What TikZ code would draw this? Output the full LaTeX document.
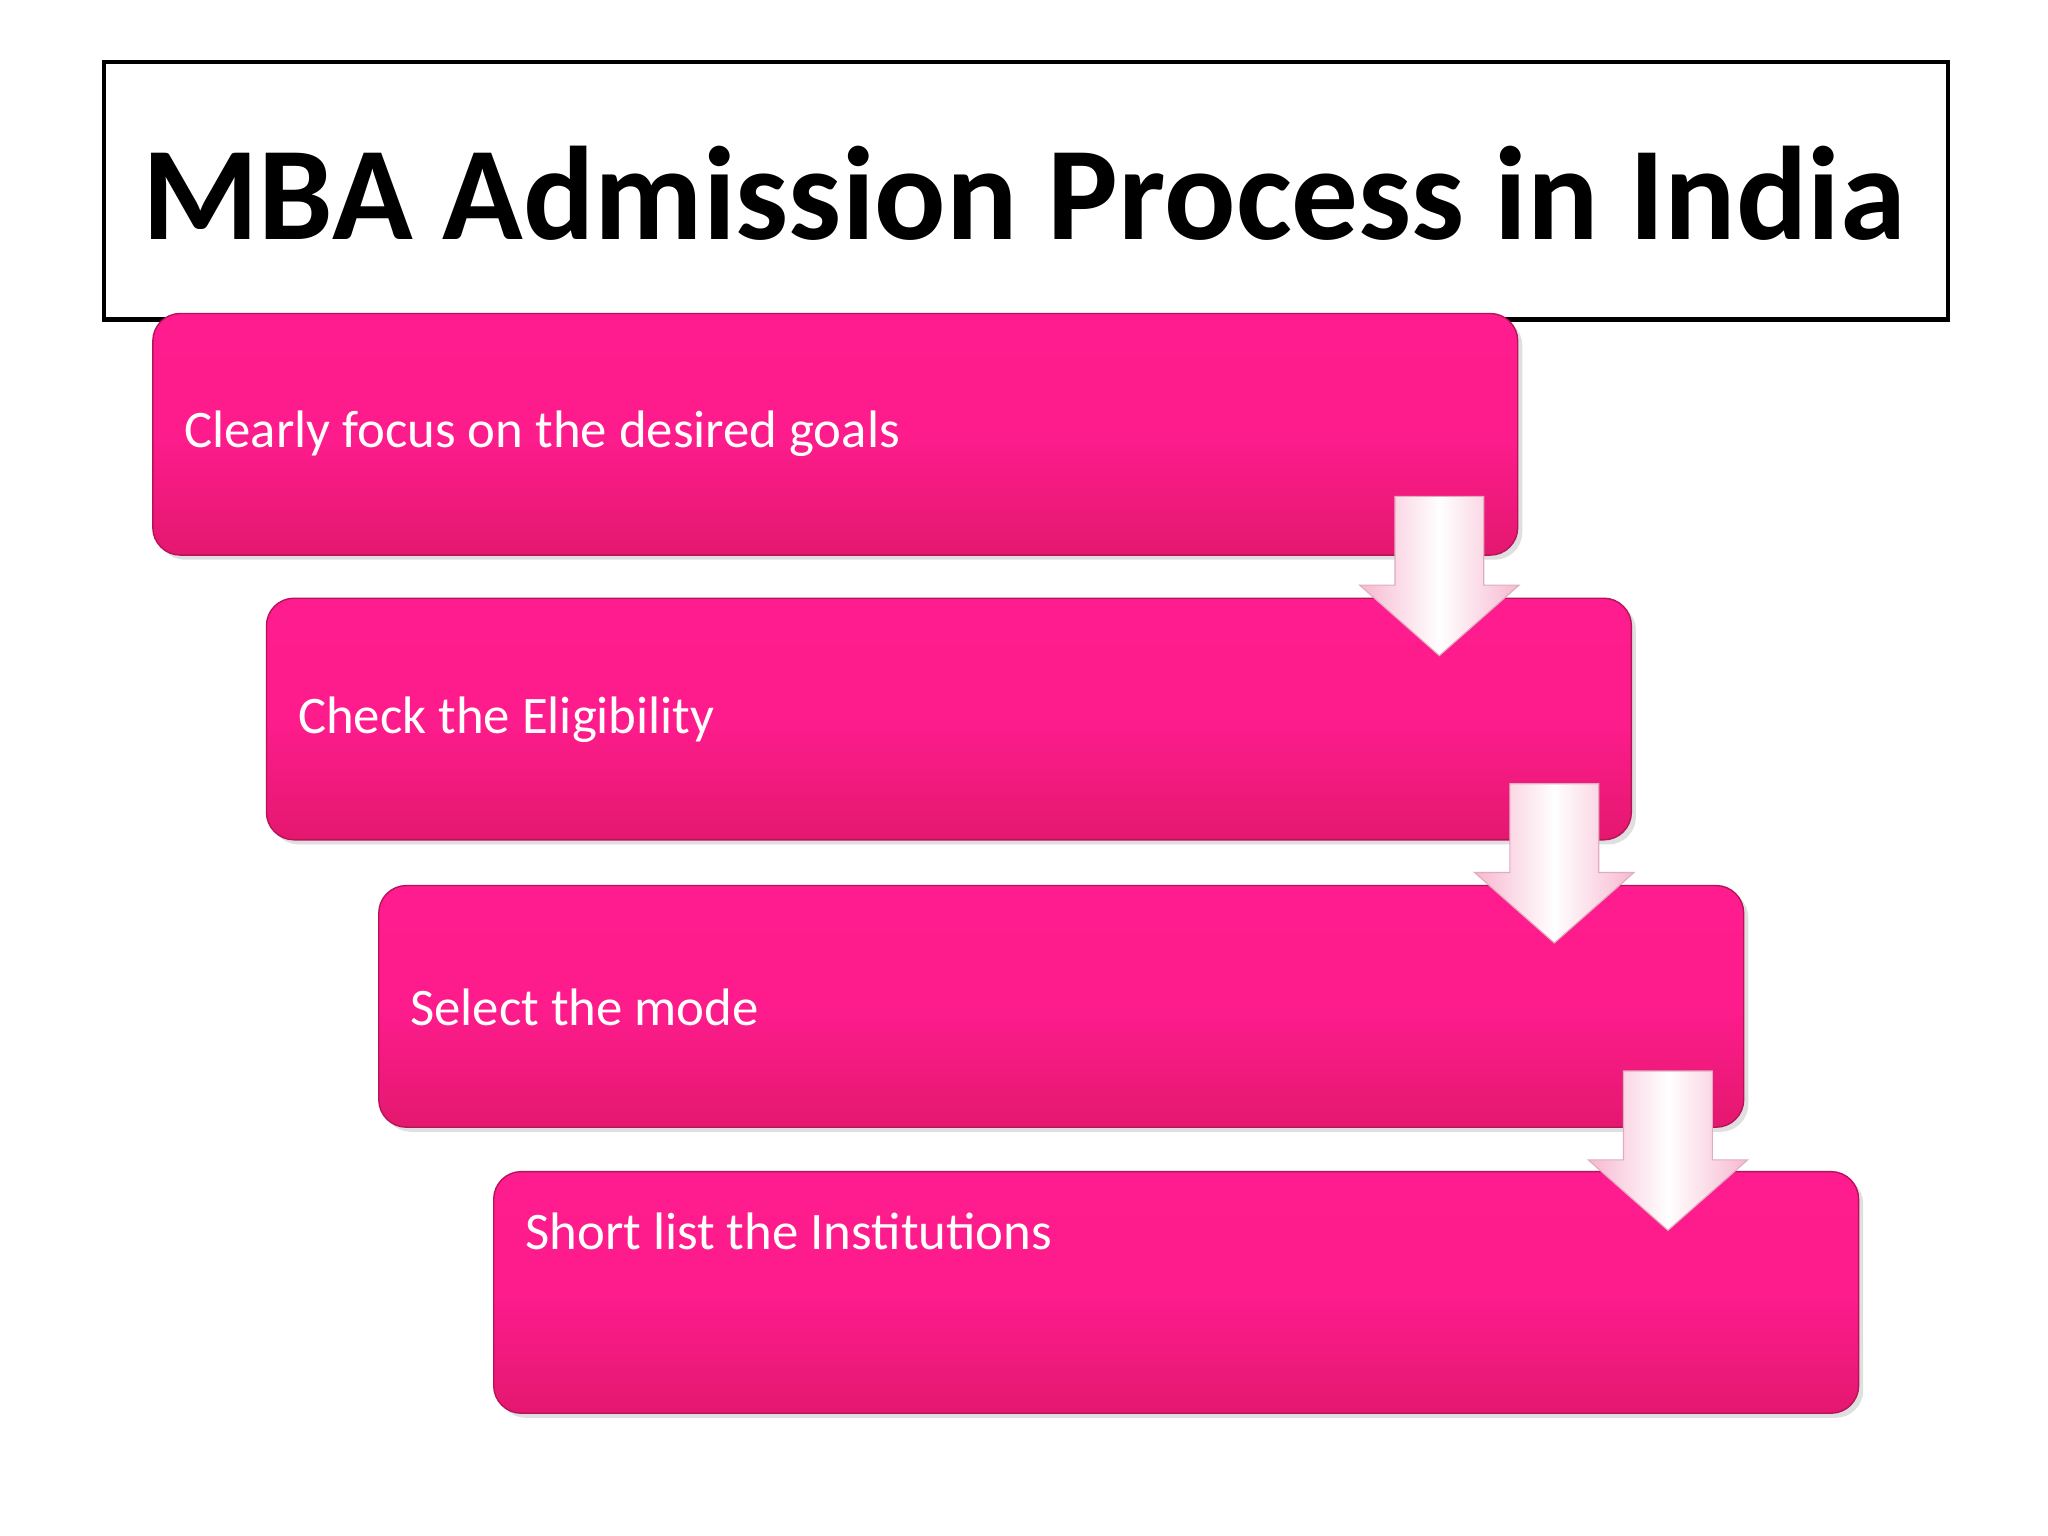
\documentclass[tikz,border=0pt]{standalone}
\usepackage{fontspec}
\setmainfont{Carlito}
\usetikzlibrary{shadows}
\definecolor{pinkT}{HTML}{FF1C8E}
\definecolor{pinkB}{HTML}{E4186F}
\definecolor{arrL}{HTML}{F7B8D0}
\begin{document}
\begin{tikzpicture}[x=0.02cm,y=-0.02cm,
  stepbox/.style={rounded corners=12pt, top color=pinkT, bottom color=pinkB, middle color=pinkT!95!pinkB, draw=pinkB!80!black, line width=0.6pt, drop shadow={opacity=0.25,shadow xshift=2pt,shadow yshift=-2pt}},
  steptext/.style={text=white, font=\fontsize{23}{27}\selectfont, anchor=west},
  downarr/.style={left color=arrL, right color=arrL, middle color=white, draw=arrL!80!gray, line width=0.5pt}]
\useasboundingbox (0,0) rectangle (1568,1176);
\fill[white] (0,0) rectangle (1568,1176);
\node[draw=black, line width=1.8pt, minimum width=1412*0.02cm, minimum height=197*0.02cm, anchor=north west, inner sep=0] (title) at (78,46) {};
\node[font=\fontsize{58}{66}\selectfont\bfseries] (tt) at (784,148) {MBA Admission Process in India};
\foreach \i/\x/\y in {1/117/240,2/204/458,3/290/678,4/378/897}{
  \path[stepbox] (\x,\y) rectangle ++(1045,185);
}
\node[steptext] (s1) at (135,332) {Clearly focus on the desired goals};
\node[steptext] (s2) at (222,551) {Check the Eligibility};
\node[steptext] (s3) at (308,771) {Select the mode};
\node[steptext] (s4) at (396,943) {Short list the Institutions};
\foreach \x/\y in {1068/380,1156/600,1243/820}{
  \path[downarr] (\x,\y) -- ++(68,0) -- ++(0,68) -- ++(27,0) -- ++(-61,54) -- ++(-61,-54) -- ++(27,0) -- cycle;
}
\end{tikzpicture}
\end{document}
